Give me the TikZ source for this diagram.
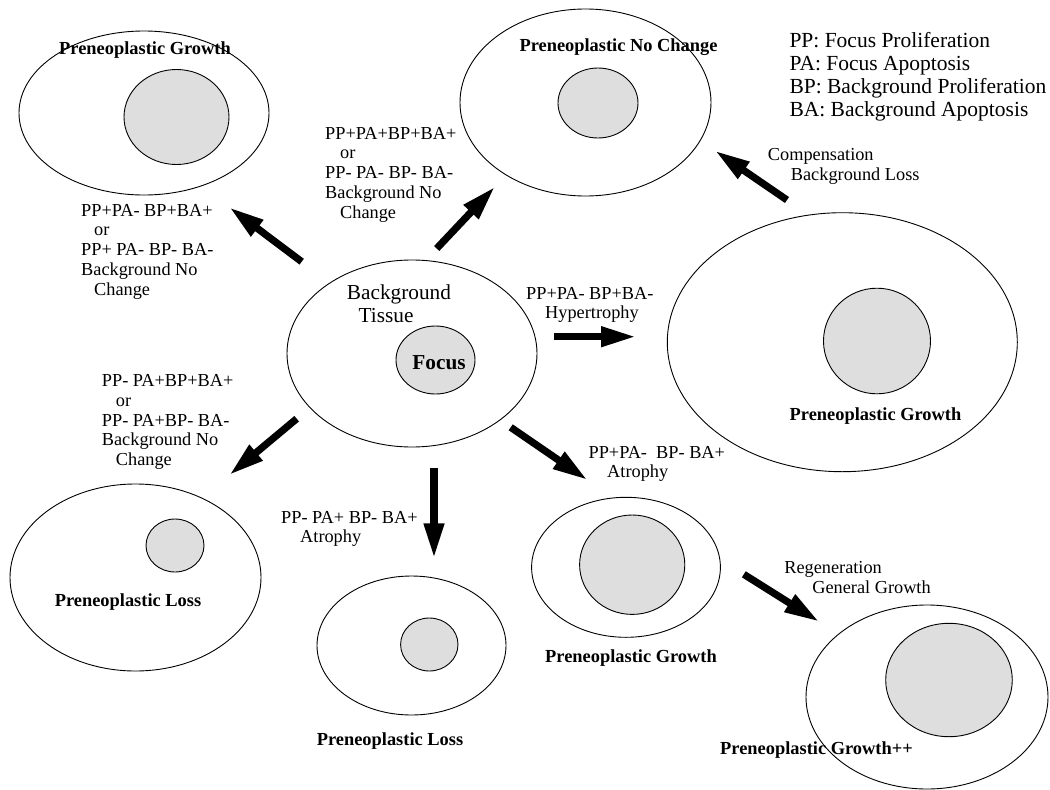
\documentclass[tikz,border=0pt]{standalone}
\usepackage{fontspec}
\setmainfont{Liberation Serif}
\usetikzlibrary{shapes.geometric,arrows.meta}
\definecolor{focusgray}{HTML}{DEDEDE}

\tikzset{
  tissue/.style={ellipse, draw, line width=0.9pt, inner sep=0pt},
  focus/.style={ellipse, draw, line width=0.9pt, fill=focusgray, inner sep=0pt},
  stage/.style={font=\fontsize{18.4}{20}\selectfont\bfseries, anchor=base, inner sep=0pt},
  cond/.style={font=\fontsize{18.3}{19.7}\selectfont, align=left, anchor=north west, inner sep=0pt},
  fatarrow/.style={line width=7.2pt, -{Triangle[length=35pt,width=19pt]}},
}

\begin{document}
\begin{tikzpicture}[x=1pt, y=-1pt]
  \useasboundingbox (0,0) rectangle (1050,790);

  % background tissue with the focus
  \node[tissue, minimum width=250pt, minimum height=187pt] (bg) at (412,353.5) {};
  \node[focus, minimum width=79pt, minimum height=68pt] (bgf) at (435.5,360) {};
  \node[font=\fontsize{21.3}{23}\selectfont, align=left, anchor=north west, inner sep=0pt] (bglab) at (346.7,284.5) {Background\\\hspace{11.7pt}Tissue};
  \node[font=\fontsize{21.3}{23}\selectfont\bfseries, anchor=base, inner sep=0pt] (bgflab) at (439,369) {Focus};

  % outcomes
  \node[tissue, minimum width=250pt, minimum height=164pt] (tl) at (144,113) {};
  \node[focus, minimum width=105pt, minimum height=95pt] (tlf) at (176.5,117) {};
  \node[stage] (tllab) at (145,54) {Preneoplastic Growth};

  \node[tissue, minimum width=251pt, minimum height=187pt] (tm) at (585.5,102.5) {};
  \node[focus, minimum width=80pt, minimum height=70pt] (tmf) at (598,103) {};
  \node[stage] (tmlab) at (618.5,51) {Preneoplastic No Change};

  \node[tissue, minimum width=350pt, minimum height=259pt] (rt) at (842.3,342.2) {};
  \node[focus, minimum width=107pt, minimum height=105.6pt] (rtf) at (877,341) {};
  \node[stage] (rtlab) at (875.5,420) {Preneoplastic Growth};

  \node[tissue, minimum width=251pt, minimum height=187pt] (bl) at (135.5,577.5) {};
  \node[focus, minimum width=58pt, minimum height=53pt] (blf) at (175,545.5) {};
  \node[stage] (bllab) at (128,606) {Preneoplastic Loss};

  \node[tissue, minimum width=189pt, minimum height=139pt] (bm) at (411.5,645.5) {};
  \node[focus, minimum width=57.4pt, minimum height=53pt] (bmf) at (429.3,644.5) {};
  \node[stage] (bmlab) at (390,745) {Preneoplastic Loss};

  \node[tissue, minimum width=188.8pt, minimum height=140pt] (br) at (626,567.3) {};
  \node[focus, minimum width=105.2pt, minimum height=99.4pt] (brf) at (632.2,564.7) {};
  \node[stage] (brlab) at (631,662.7) {Preneoplastic Growth};

  \node[tissue, minimum width=242pt, minimum height=184pt] (bbr) at (927,697) {};
  \node[focus, minimum width=126.6pt, minimum height=113.4pt] (bbrf) at (949,680) {};
  \node[stage] (bbrlab) at (816.5,754.3) {Preneoplastic Growth++};

  % conditions
  \node[cond] (c1) at (81,204) {PP+PA- BP+BA+\\\hspace{13pt}or\\PP+ PA- BP- BA-\\Background No\\\hspace{13pt}Change};
  \node[cond] (c2) at (325,127) {PP+PA+BP+BA+\\\hspace{15pt}or\\PP- PA- BP- BA-\\Background No\\\hspace{15pt}Change};
  \node[cond] (c3) at (767.7,148.5) {Compensation\\\hspace{23pt}Background Loss};
  \node[cond] (c4) at (526,287) {PP+PA- BP+BA-\\\hspace{19pt}Hypertrophy};
  \node[cond] (c5) at (101.7,374.5) {PP- PA+BP+BA+\\\hspace{14pt}or\\PP- PA+BP- BA-\\Background No\\\hspace{14pt}Change};
  \node[cond] (c6) at (281,511) {PP- PA+ BP- BA+\\\hspace{19pt}Atrophy};
  \node[cond] (c7) at (588.4,446) {PP+PA-~~BP- BA+\\\hspace{18.6pt}Atrophy};
  \node[cond] (c8) at (784.1,561) {Regeneration\\\hspace{28pt}General Growth};

  \node[font=\fontsize{21.5}{22.8}\selectfont, align=left, anchor=north west, inner sep=0pt] (legend) at (789.3,32.5)
    {PP: Focus Proliferation\\PA: Focus Apoptosis\\BP: Background Proliferation\\BA: Background Apoptosis};

  % arrow ends
  \coordinate (a1s) at (301.7,261.7); \coordinate (a1e) at (229.3,207.3);
  \coordinate (a2s) at (436.7,248.5); \coordinate (a2e) at (495,186.7);
  \coordinate (a3s) at (787,200);     \coordinate (a3e) at (715,150.7);
  \coordinate (a4s) at (554,336.7);   \coordinate (a4e) at (636,336.7);
  \coordinate (a5s) at (296.7,418.7); \coordinate (a5e) at (229.3,475);
  \coordinate (a6s) at (434,468.3);   \coordinate (a6e) at (434,558.3);
  \coordinate (a7s) at (510.7,427.3); \coordinate (a7e) at (587.5,480);
  \coordinate (a8s) at (743.8,574.3); \coordinate (a8e) at (819.2,621.7);

  \foreach \i in {1,...,8}
    \draw[fatarrow] (a\i s) -- (a\i e);
\end{tikzpicture}
\end{document}
